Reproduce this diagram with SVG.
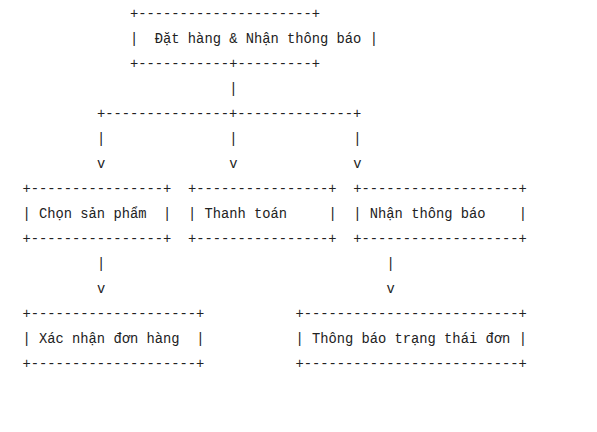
<svg xmlns="http://www.w3.org/2000/svg" width="597" height="432" viewBox="0 0 597 432">
<style>
text{font-family:"Liberation Mono","DejaVu Sans Mono",monospace;font-size:13.78px;fill:#222;}
</style>
<rect width="597" height="432" fill="#ffffff"/>
<g id="node-dat-hang">
<text x="130.01" y="18">+---------------------+</text>
<text x="130.01" y="43">|</text>
<text x="154.82" y="43">Đặt hàng &amp; Nhận thông báo</text>
<text x="369.84" y="43">|</text>
<text x="130.01" y="68">+-----------+---------+</text>
</g>
<g id="connectors">
<text x="229.25" y="93">|</text>
<text x="96.93" y="118">+---------------+--------------+</text>
<text x="96.93" y="143">|</text>
<text x="229.25" y="143">|</text>
<text x="353.3" y="143">|</text>
<text x="96.93" y="168">v</text>
<text x="229.25" y="168">v</text>
<text x="353.3" y="168">v</text>
<text x="96.93" y="268">|</text>
<text x="96.93" y="293">v</text>
<text x="386.38" y="268">|</text>
<text x="386.38" y="293">v</text>
</g>
<g id="node-chon-san-pham">
<text x="22.5" y="193">+----------------+</text>
<text x="22.5" y="218">|</text>
<text x="39.04" y="218">Chọn sản phẩm</text>
<text x="163.09" y="218">|</text>
<text x="22.5" y="243">+----------------+</text>
</g>
<g id="node-thanh-toan">
<text x="187.9" y="193">+----------------+</text>
<text x="187.9" y="218">|</text>
<text x="204.44" y="218">Thanh toán</text>
<text x="328.49" y="218">|</text>
<text x="187.9" y="243">+----------------+</text>
</g>
<g id="node-nhan-thong-bao">
<text x="353.3" y="193">+-------------------+</text>
<text x="353.3" y="218">|</text>
<text x="369.84" y="218">Nhận thông báo</text>
<text x="518.7" y="218">|</text>
<text x="353.3" y="243">+-------------------+</text>
</g>
<g id="node-xac-nhan">
<text x="22.5" y="318">+--------------------+</text>
<text x="22.5" y="343">|</text>
<text x="39.04" y="343">Xác nhận đơn hàng</text>
<text x="196.17" y="343">|</text>
<text x="22.5" y="368">+--------------------+</text>
</g>
<g id="node-trang-thai">
<text x="295.41" y="318">+--------------------------+</text>
<text x="295.41" y="343">|</text>
<text x="311.95" y="343">Thông báo trạng thái đơn</text>
<text x="518.7" y="343">|</text>
<text x="295.41" y="368">+--------------------------+</text>
</g>
</svg>
